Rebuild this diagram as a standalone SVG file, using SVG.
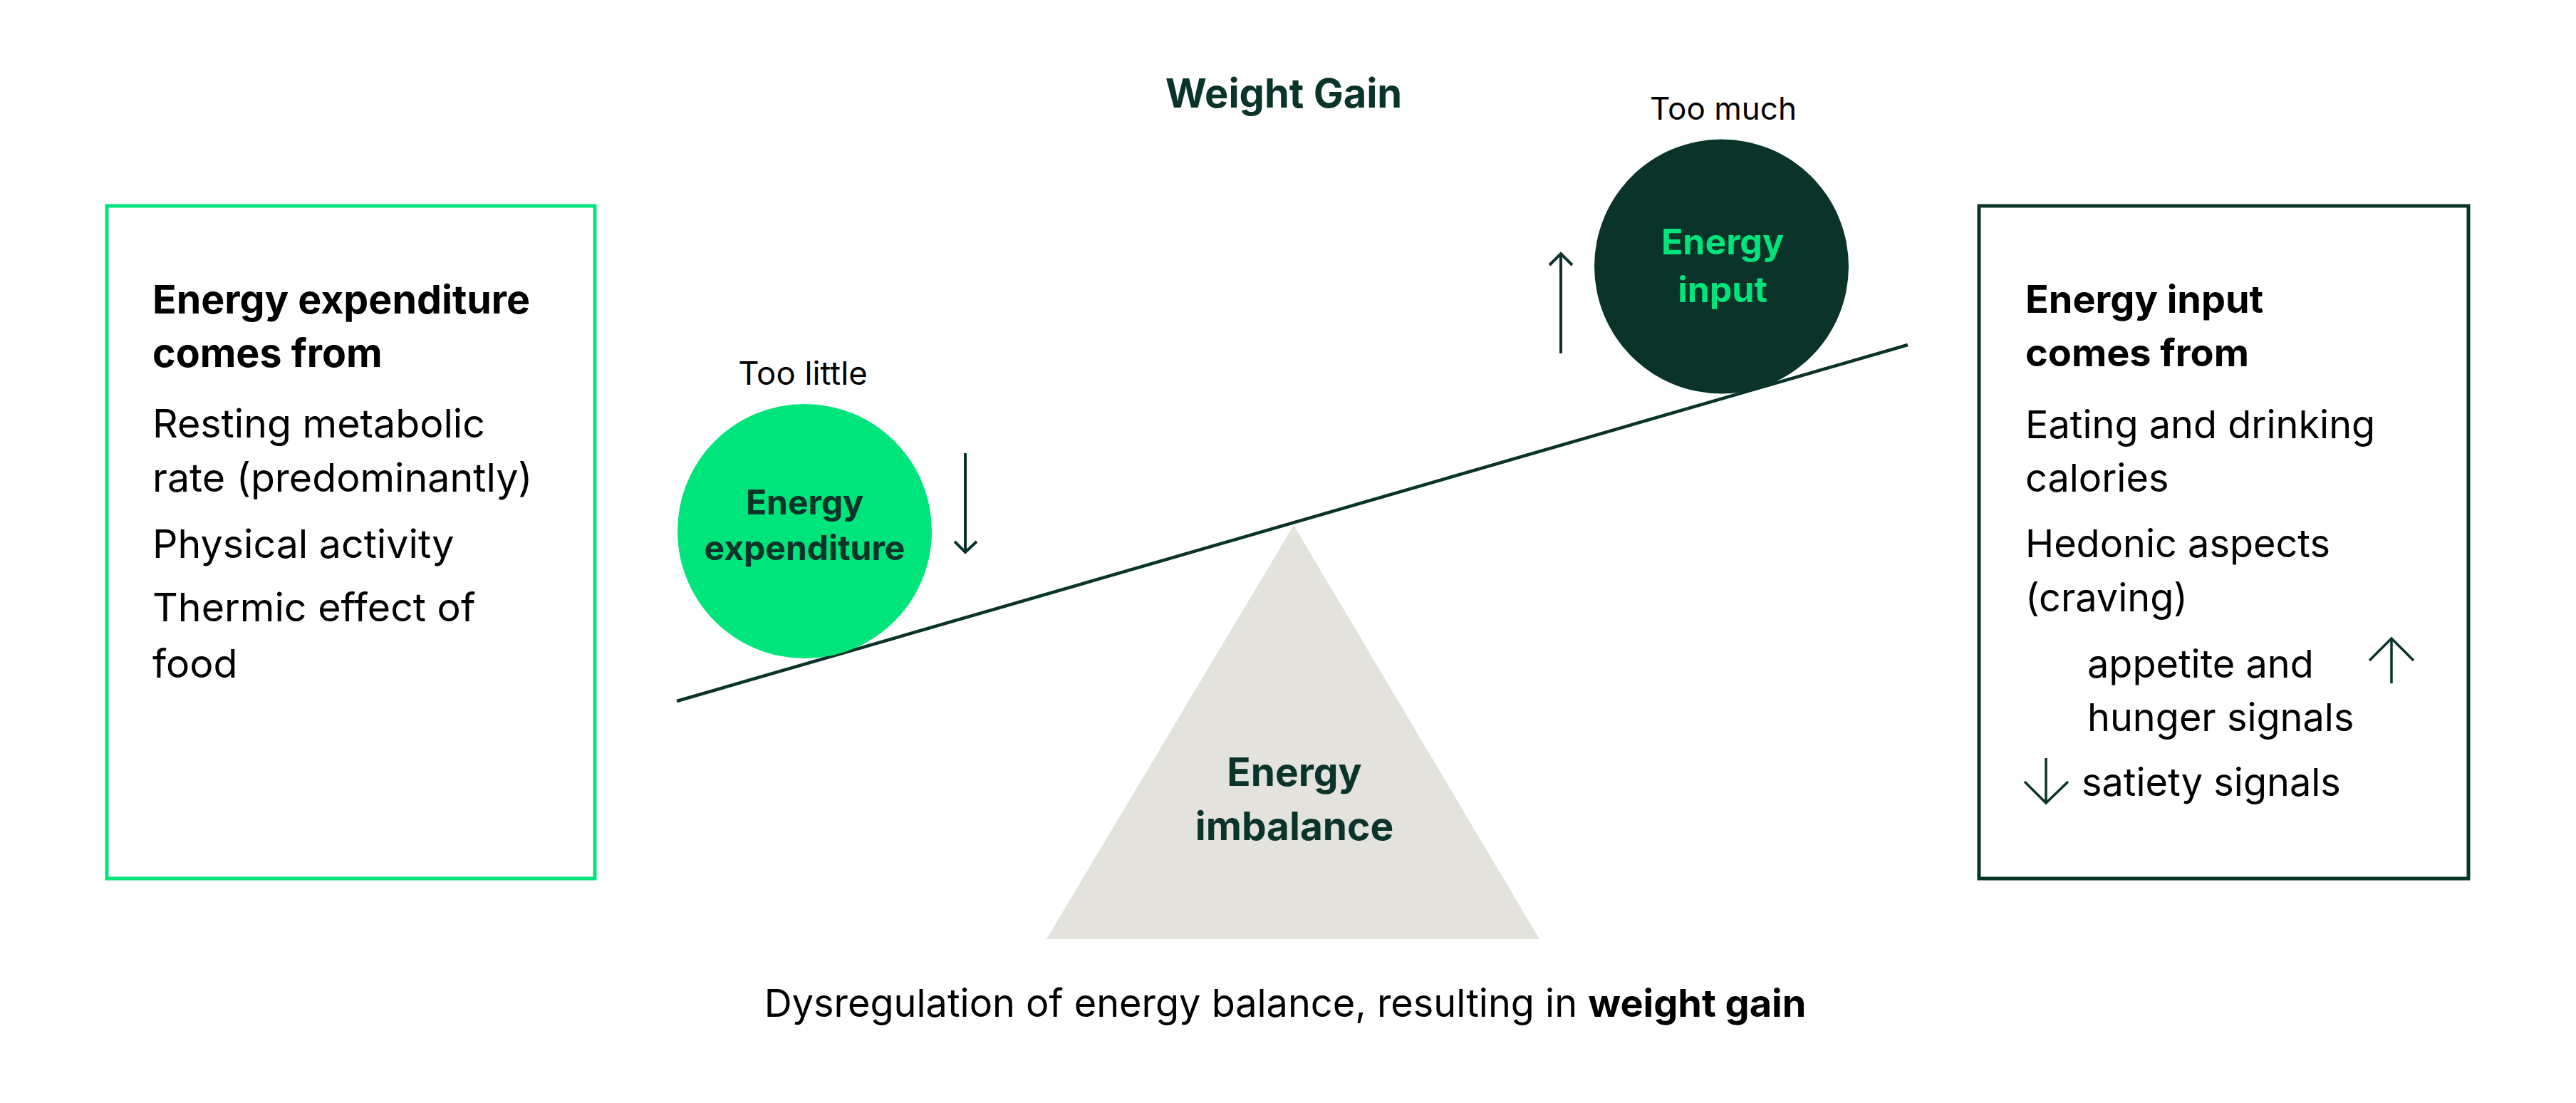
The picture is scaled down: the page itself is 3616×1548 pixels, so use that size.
<svg xmlns="http://www.w3.org/2000/svg" width="3616" height="1548" viewBox="0 0 3616 1548">
<style>
text{font-family:Inter,"Noto Sans","Liberation Sans",sans-serif}
.b{font-weight:700}
.lb{font-size:55.5px;fill:#000}
.rb{font-size:54px;fill:#000}
.dark{fill:#0A3329}
.green{fill:#00E47C}
.arrow{fill:none;stroke:#0A3329;stroke-width:4;stroke-linecap:butt}
.arrowthin{fill:none;stroke:#0A3329;stroke-width:3.5}
</style>
<rect width="3616" height="1548" fill="#fff"/>
<text x="1802" y="151" text-anchor="middle" class="b dark" font-size="56">Weight Gain</text>
<g id="expenditure-box">
<rect x="150" y="289" width="685" height="944" fill="none" stroke="#00E47C" stroke-width="5"/>
<text class="lb b" x="214" y="440">Energy expenditure</text>
<text class="lb b" x="214" y="515">comes from</text>
<text class="lb" x="214" y="614">Resting metabolic</text>
<text class="lb" x="214" y="690">rate (predominantly)</text>
<text class="lb" x="214" y="783">Physical activity</text>
<text class="lb" x="214" y="872">Thermic effect of</text>
<text class="lb" x="214" y="951">food</text>
</g>
<g id="input-box">
<rect x="2778" y="289" width="687" height="944" fill="none" stroke="#0A3329" stroke-width="5"/>
<text class="rb b" x="2843" y="439">Energy input</text>
<text class="rb b" x="2843" y="514">comes from</text>
<text class="rb" x="2843" y="615">Eating and drinking</text>
<text class="rb" x="2843" y="690">calories</text>
<text class="rb" x="2843" y="782">Hedonic aspects</text>
<text class="rb" x="2843" y="858">(craving)</text>
<text class="rb" x="2930" y="951">appetite and</text>
<text class="rb" x="2930" y="1026">hunger signals</text>
<text class="rb" x="2922" y="1117">satiety signals</text>
<path class="arrowthin" d="M3357 959V897M3326 927L3357 896L3388 927"/>
<path class="arrowthin" d="M2872 1064V1126M2842 1097L2872 1127L2903 1097"/>
</g>
<g id="connectors">
<line x1="950" y1="984" x2="2678" y2="484" stroke="#0A3329" stroke-width="4.5"/>
<path class="arrow" d="M1355 636V775M1340 760L1355 775L1371 760"/>
<path class="arrow" d="M2191 496V356M2175 372L2191 356L2207 372"/>
</g>
<g id="fulcrum">
<polygon points="1816,737 1469,1318 2161,1318" fill="#E3E2DD"/>
<text x="1817" y="1103" text-anchor="middle" class="b dark" font-size="55">Energy</text>
<text x="1817" y="1179" text-anchor="middle" class="b dark" font-size="55">imbalance</text>
</g>
<g id="energy-expenditure">
<text x="1127" y="540" text-anchor="middle" font-size="45.5" fill="#000">Too little</text>
<circle cx="1129.5" cy="745.5" r="178.5" fill="#00E47C"/>
<text x="1129.5" y="722" text-anchor="middle" class="b dark" font-size="48">Energy</text>
<text x="1129.5" y="786" text-anchor="middle" class="b dark" font-size="48">expenditure</text>
</g>
<g id="energy-input">
<text x="2419" y="168" text-anchor="middle" font-size="44" fill="#000">Too much</text>
<circle cx="2416.5" cy="374" r="178.5" fill="#0A3329"/>
<text x="2418" y="357" text-anchor="middle" class="b green" font-size="50">Energy</text>
<text x="2418" y="424" text-anchor="middle" class="b green" font-size="50">input</text>
</g>
<text x="1804" y="1427" text-anchor="middle" class="rb">Dysregulation of energy balance, resulting in <tspan class="b">weight gain</tspan></text>
</svg>
